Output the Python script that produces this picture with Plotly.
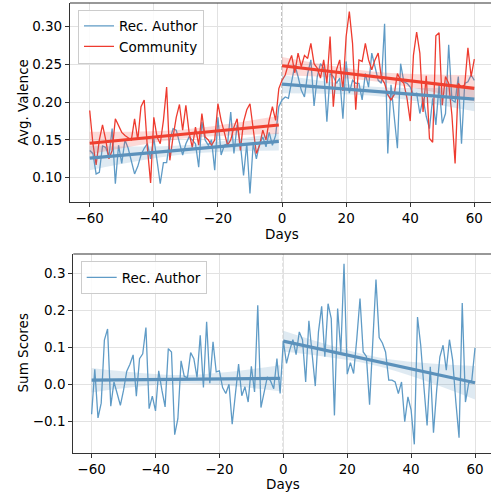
import plotly.graph_objects as go

# ---------------- data ----------------
days_pre = list(range(-60, 0))
days_post = list(range(0, 61))

valence_author_pre = [0.136, 0.132, 0.105, 0.107, 0.142, 0.140, 0.128, 0.165, 0.092, 0.143,
                      0.119, 0.150, 0.139, 0.123, 0.105, 0.115, 0.130, 0.139, 0.145, 0.125,
                      0.152, 0.123, 0.092, 0.120, 0.120, 0.150, 0.165, 0.163, 0.145, 0.130,
                      0.145, 0.154, 0.150, 0.145, 0.114, 0.174, 0.150, 0.143, 0.150, 0.110,
                      0.180, 0.130, 0.143, 0.145, 0.187, 0.132, 0.170, 0.145, 0.103, 0.145,
                      0.079, 0.145, 0.125, 0.145, 0.154, 0.141, 0.160, 0.143, 0.156, 0.194]
valence_author_post = [0.203, 0.207, 0.205, 0.229, 0.249, 0.234, 0.216, 0.207, 0.238, 0.256,
                       0.195, 0.234, 0.251, 0.245, 0.174, 0.238, 0.234, 0.225, 0.232, 0.178,
                       0.254, 0.212, 0.229, 0.225, 0.225, 0.203, 0.238, 0.220, 0.265, 0.247,
                       0.229, 0.225, 0.304, 0.132, 0.223, 0.181, 0.139, 0.251, 0.227, 0.225,
                       0.220, 0.210, 0.212, 0.185, 0.205, 0.181, 0.165, 0.205, 0.170, 0.223,
                       0.172, 0.185, 0.276, 0.203, 0.200, 0.234, 0.145, 0.225, 0.227, 0.236,
                       0.229]
valence_comm_pre = [0.189, 0.145, 0.117, 0.150, 0.170, 0.150, 0.125, 0.136, 0.178, 0.170,
                    0.160, 0.156, 0.153, 0.150, 0.178, 0.150, 0.194, 0.203, 0.139, 0.093,
                    0.180, 0.154, 0.145, 0.176, 0.220, 0.123, 0.154, 0.180, 0.197, 0.163,
                    0.196, 0.160, 0.140, 0.167, 0.143, 0.185, 0.154, 0.150, 0.143, 0.150,
                    0.198, 0.176, 0.160, 0.143, 0.150, 0.167, 0.178, 0.136, 0.174, 0.190,
                    0.198, 0.167, 0.132, 0.143, 0.163, 0.150, 0.176, 0.194, 0.176, 0.218]
valence_comm_post = [0.229, 0.236, 0.251, 0.262, 0.239, 0.265, 0.247, 0.262, 0.258, 0.278,
                     0.251, 0.245, 0.232, 0.256, 0.225, 0.287, 0.194, 0.243, 0.256, 0.215,
                     0.287, 0.320, 0.278, 0.190, 0.256, 0.254, 0.278, 0.256, 0.243, 0.256,
                     0.265, 0.232, 0.225, 0.210, 0.203, 0.210, 0.238, 0.229, 0.225, 0.205,
                     0.175, 0.262, 0.293, 0.265, 0.187, 0.235, 0.152, 0.147, 0.288, 0.292,
                     0.196, 0.234, 0.225, 0.183, 0.119, 0.225, 0.220, 0.223, 0.272, 0.234,
                     0.257]

sum_author_pre = [-0.080, 0.041, -0.090, -0.050, 0.120, 0.150, -0.058, 0.007, -0.024, -0.056,
                  -0.015, 0.036, 0.055, 0.080, -0.031, 0.070, 0.083, 0.154, -0.065, -0.031,
                  -0.071, 0.037, -0.015, -0.060, 0.097, 0.088, -0.135, -0.092, 0.064, 0.022,
                  0.019, 0.086, 0.070, 0.019, 0.133, -0.008, 0.169, 0.004, 0.115, 0.034,
                  0.037, -0.008, -0.024, 0.001, -0.107, -0.031, 0.055, -0.030, -0.006, -0.047,
                  0.049, -0.020, 0.214, -0.062, -0.015, 0.021, 0.010, -0.011, 0.070, -0.024]
sum_author_post = [0.118, 0.057, 0.093, 0.121, 0.081, 0.142, 0.121, 0.007, 0.172, 0.088,
                   -0.004, 0.142, 0.211, 0.075, 0.218, 0.178, -0.083, 0.205, 0.088, 0.326,
                   0.028, 0.059, 0.030, 0.124, 0.232, 0.088, 0.076, -0.054, 0.110, 0.283,
                   0.127, 0.112, 0.088, 0.012, 0.012, 0.007, -0.024, 0.007, -0.100, -0.033,
                   -0.069, -0.161, 0.182, 0.106, -0.006, -0.110, 0.048, -0.130, -0.015, 0.075,
                   0.106, 0.039, 0.121, 0.066, -0.047, -0.143, 0.220, -0.047, 0.003, 0.012,
                   0.099]

# regression fits: [start, end]
fit_pre_x = [-60, -1]
fit_post_x = [0, 60]
fit_author_pre = [0.126, 0.148]
fit_author_post = [0.224, 0.204]
fit_comm_pre = [0.1456, 0.1698]
fit_comm_post = [0.2483, 0.2184]
fit_sum_pre = [0.012, 0.017]
fit_sum_post = [0.117, 0.005]

# confidence bands: (start, middle, end)
band_pre_x = [-60, -30.5, -1]
band_post_x = [0, 30, 60]
band_author_pre = ([0.142, 0.143, 0.160], [0.110, 0.131, 0.136])
band_author_post = ([0.236, 0.220, 0.220], [0.212, 0.208, 0.188])
band_comm_pre = ([0.161, 0.164, 0.182], [0.131, 0.152, 0.158])
band_comm_post = ([0.260, 0.240, 0.236], [0.236, 0.227, 0.201])
band_sum_pre = ([0.045, 0.026, 0.052], [-0.021, 0.003, -0.018])
band_sum_post = ([0.145, 0.073, 0.050], [0.089, 0.049, -0.040])

x_ticks = [-60, -40, -20, 0, 20, 40, 60]
y1_ticks = [0.10, 0.15, 0.20, 0.25, 0.30]
y2_ticks = [-0.1, 0.0, 0.1, 0.2, 0.3]

# ---------------- styling ----------------
W, H = 491, 495
BLUE = "#5f9bc6"
BLUE_FIT = "#5b91bb"
BLUE_BAND = "rgba(95,150,190,0.20)"
RED = "#ee3b2f"
RED_FIT = "#ef4030"
RED_BAND = "rgba(240,70,60,0.20)"
FONT = "DejaVu Sans"
FS = 13.5

fig = go.Figure()


def add_band(xs, band, color, xa, ya):
    up, lo = band
    fig.add_trace(go.Scatter(x=xs, y=lo, mode="lines", line=dict(width=0, shape="spline"),
                             showlegend=False, hoverinfo="skip", xaxis=xa, yaxis=ya))
    fig.add_trace(go.Scatter(x=xs, y=up, mode="lines", line=dict(width=0, shape="spline"),
                             fill="tonexty", fillcolor=color, showlegend=False,
                             hoverinfo="skip", xaxis=xa, yaxis=ya))


def add_fit(xs, ys, color, xa, ya):
    fig.add_trace(go.Scatter(x=xs, y=ys, mode="lines", line=dict(color=color, width=3.2),
                             showlegend=False, hoverinfo="skip", xaxis=xa, yaxis=ya))


days_all = days_pre + days_post

# top panel raw lines
fig.add_trace(go.Scatter(x=days_all, y=valence_author_pre + valence_author_post, mode="lines",
                         line=dict(color=BLUE, width=1.3), name="Rec. Author",
                         xaxis="x", yaxis="y", legend="legend"))
fig.add_trace(go.Scatter(x=days_all, y=valence_comm_pre + valence_comm_post, mode="lines",
                         line=dict(color=RED, width=1.3), name="Community",
                         xaxis="x", yaxis="y", legend="legend"))
add_band(band_pre_x, band_author_pre, BLUE_BAND, "x", "y")
add_band(band_post_x, band_author_post, BLUE_BAND, "x", "y")
add_band(band_pre_x, band_comm_pre, RED_BAND, "x", "y")
add_band(band_post_x, band_comm_post, RED_BAND, "x", "y")
add_fit(fit_pre_x, fit_author_pre, BLUE_FIT, "x", "y")
add_fit(fit_post_x, fit_author_post, BLUE_FIT, "x", "y")
add_fit(fit_pre_x, fit_comm_pre, RED_FIT, "x", "y")
add_fit(fit_post_x, fit_comm_post, RED_FIT, "x", "y")

# bottom panel
fig.add_trace(go.Scatter(x=days_all, y=sum_author_pre + sum_author_post, mode="lines",
                         line=dict(color=BLUE, width=1.3), name="Rec. Author",
                         xaxis="x2", yaxis="y2", legend="legend2"))
add_band(band_pre_x, band_sum_pre, BLUE_BAND, "x2", "y2")
add_band(band_post_x, band_sum_post, BLUE_BAND, "x2", "y2")
add_fit(fit_pre_x, fit_sum_pre, BLUE_FIT, "x2", "y2")
add_fit(fit_post_x, fit_sum_post, BLUE_FIT, "x2", "y2")

axis_common = dict(showgrid=True, gridcolor="#e2e2e2", gridwidth=1, zeroline=False,
                   showline=True, linecolor="#333333", linewidth=1.2,
                   ticks="outside", ticklen=4, tickwidth=1.2, tickcolor="#333333",
                   tickfont=dict(family=FONT, size=FS, color="black"))

fig.update_layout(
    width=W, height=H, margin=dict(l=0, r=0, t=0, b=0),
    paper_bgcolor="white", plot_bgcolor="white",
    font=dict(family=FONT, size=FS, color="black"),
    xaxis=dict(domain=[70 / W, 1], range=[-66.15, 65.2], tickvals=x_ticks, anchor="y",
               **axis_common),
    yaxis=dict(domain=[1 - 202 / H, 1 - 3 / H], range=[0.0678, 0.3314], tickvals=y1_ticks,
               tickformat=".2f", anchor="x", **axis_common),
    xaxis2=dict(domain=[73.3 / W, 1], range=[-65.73, 65.0], tickvals=x_ticks, anchor="y2",
                **axis_common),
    yaxis2=dict(domain=[1 - 452.7 / H, 1 - 254 / H], range=[-0.1836, 0.352], tickvals=y2_ticks,
                tickformat=".1f", anchor="x2", **axis_common),
    legend=dict(x=78 / W, y=1 - 9.5 / H, xanchor="left", yanchor="top", traceorder="normal",
                bgcolor="rgba(255,255,255,0.85)", bordercolor="#cccccc", borderwidth=1,
                font=dict(family=FONT, size=FS), itemwidth=30, tracegroupgap=0),
    legend2=dict(x=80.7 / W, y=1 - 261 / H, xanchor="left", yanchor="top", traceorder="normal",
                 bgcolor="rgba(255,255,255,0.85)", bordercolor="#cccccc", borderwidth=1,
                 font=dict(family=FONT, size=FS), itemwidth=30),
    showlegend=True,
)

# top spines and dashed event line
for xa, ya in (("x", "y"), ("x2", "y2")):
    fig.add_shape(type="line", xref=f"{xa} domain", yref=f"{ya} domain", x0=0, x1=1, y0=1, y1=1,
                  line=dict(color="#333333", width=1.2), layer="above")
    fig.add_shape(type="line", xref=xa, yref=f"{ya} domain", x0=0, x1=0, y0=0, y1=1,
                  line=dict(color="#999999", width=1.2, dash="4px,2px"), layer="below")

# axis titles
annos = [
    dict(text="Avg. Valence", x=22 / W, y=1 - 102.5 / H, textangle=-90),
    dict(text="Days", x=282 / W, y=1 - 233.5 / H, textangle=0),
    dict(text="Sum Scores", x=22 / W, y=1 - 353.5 / H, textangle=-90),
    dict(text="Days", x=283.3 / W, y=1 - 484 / H, textangle=0),
]
for a in annos:
    fig.add_annotation(xref="paper", yref="paper", showarrow=False, xanchor="center",
                       yanchor="middle", font=dict(family=FONT, size=FS, color="black"), **a)

fig.write_html("out.html", config={"displayModeBar": False},
               post_script="document.body.style.margin='0';")
